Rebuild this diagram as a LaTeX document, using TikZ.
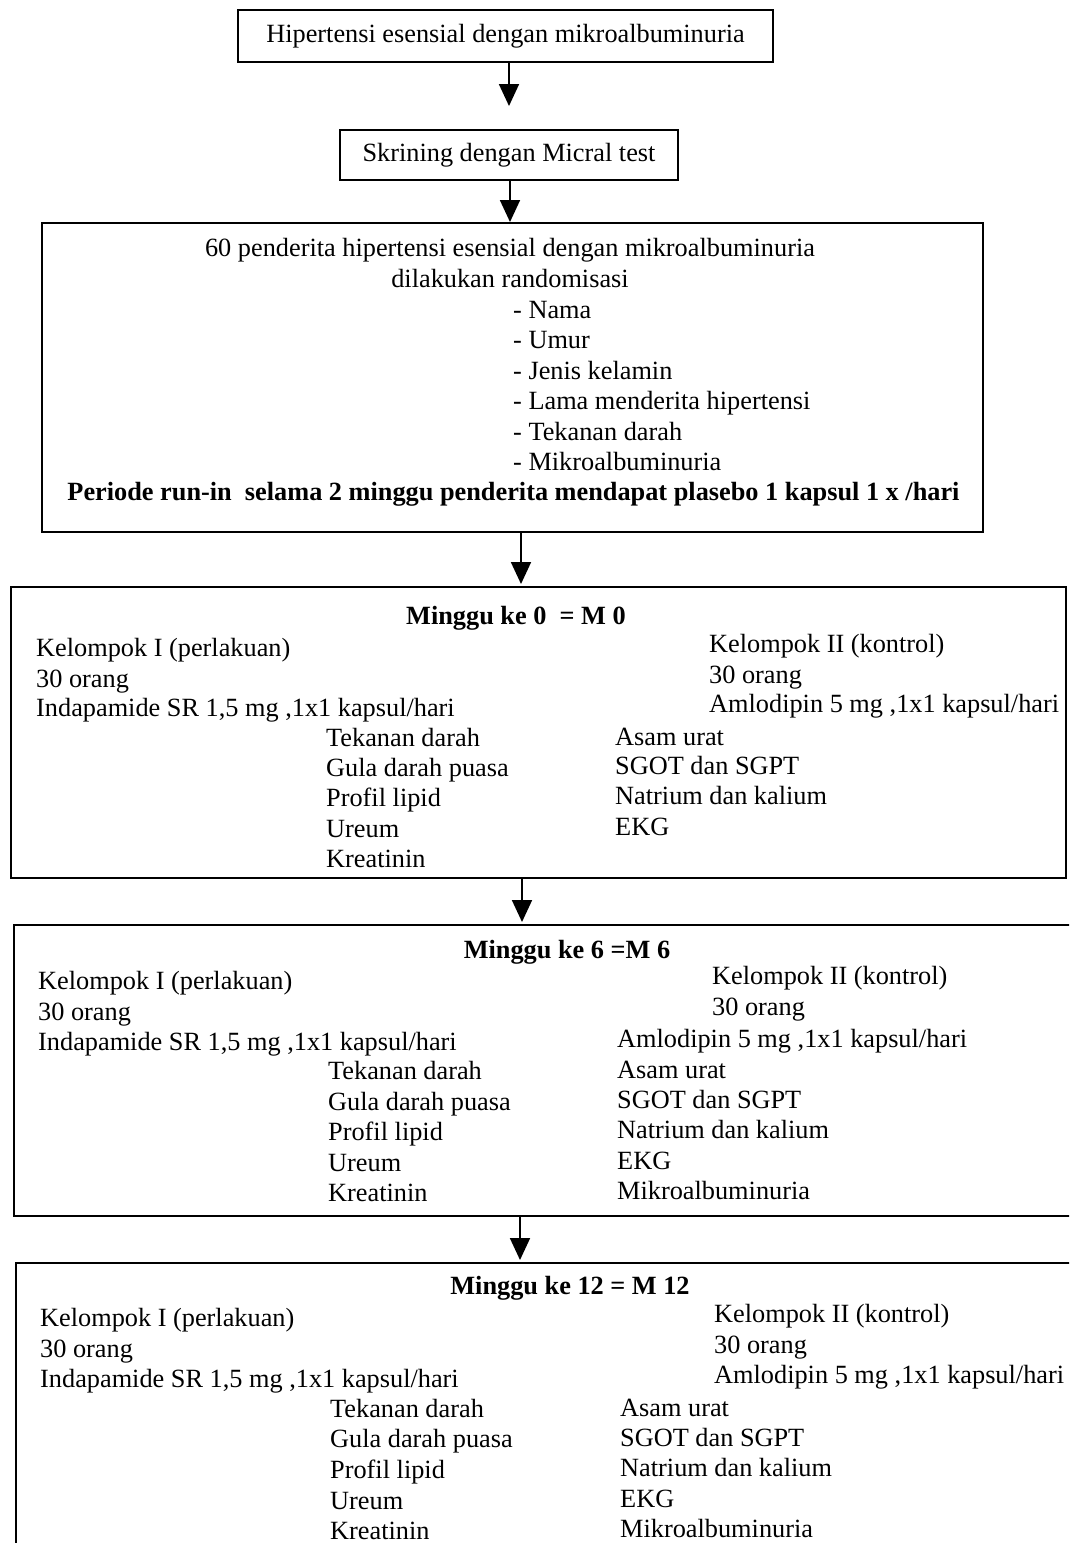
\documentclass[tikz,border=0pt]{standalone}
\usepackage{fontspec}
\setmainfont{Liberation Serif}
\usetikzlibrary{arrows.meta}

\begin{document}
\begin{tikzpicture}[x=1pt,y=-1pt,
  box/.style={draw, line width=2pt, inner sep=0pt},
  txt/.style={inner sep=0pt, font=\fontsize{26.3}{31}\selectfont},
  ln/.style={txt, anchor=base west},
  lnc/.style={txt, anchor=base},
  hd/.style={lnc, font=\fontsize{26.3}{31}\selectfont\bfseries},
  arr/.style={line width=1.8pt, -{Triangle[width=20pt,length=22pt]}}]

\useasboundingbox (0,0) rectangle (1069,1543);
\clip (0,0) rectangle (1069,1543);

% ---------- top boxes ----------
\node[box, txt, minimum width=535pt, minimum height=52pt] (b1) at (505.5,36)
  {Hipertensi esensial dengan mikroalbuminuria};
\node[box, txt, minimum width=338pt, minimum height=50pt] (b2) at (509,155)
  {Skrining dengan Micral test};

% ---------- randomisation box ----------
\node[box, minimum width=941pt, minimum height=309pt] (b3) at (512.5,377.5) {};
\node[lnc] (b3-t1) at (510,256) {60 penderita hipertensi esensial dengan mikroalbuminuria};
\node[lnc] (b3-t2) at (510,287) {dilakukan randomisasi};
\foreach \y/\t [count=\i] in {318/Nama, 348/Umur, 379/Jenis kelamin,
    409/Lama menderita hipertensi, 440/Tekanan darah, 470/Mikroalbuminuria}
  \node[ln] (b3-v\i) at (513,\y) {- \t};
\node[hd] (b3-run) at (513.5,500)
  {Periode run-in\ \ selama 2 minggu penderita mendapat plasebo 1 kapsul 1 x /hari};

% ---------- week 0 ----------
\node[box, minimum width=1055pt, minimum height=291pt] (b4) at (538.5,732.5) {};
\node[hd] (b4-h) at (516,624) {Minggu ke 0\ \ = M 0};
\foreach \y/\t [count=\i] in {656/{Kelompok I (perlakuan)}, 687/{30 orang},
    716/{Indapamide SR 1,5 mg ,1x1 kapsul/hari}}
  \node[ln] (b4-l\i) at (36,\y) {\t};
\foreach \y/\t [count=\i] in {652/{Kelompok II (kontrol)}, 683/{30 orang},
    712/{Amlodipin 5 mg ,1x1 kapsul/hari}}
  \node[ln] (b4-r\i) at (709,\y) {\t};
\foreach \y/\t [count=\i] in {746/Tekanan darah, 776/Gula darah puasa,
    806/Profil lipid, 837/Ureum, 867/Kreatinin}
  \node[ln] (b4-m\i) at (326,\y) {\t};
\foreach \y/\t [count=\i] in {745/Asam urat, 774/SGOT dan SGPT,
    804/Natrium dan kalium, 835/EKG}
  \node[ln] (b4-n\i) at (615,\y) {\t};

% ---------- week 6 ----------
\node[box, minimum width=1061pt, minimum height=291pt] (b5) at (544.5,1070.5) {};
\node[hd] (b5-h) at (567,958) {Minggu ke 6 =M 6};
\foreach \y/\t [count=\i] in {989/{Kelompok I (perlakuan)}, 1020/{30 orang},
    1050/{Indapamide SR 1,5 mg ,1x1 kapsul/hari}}
  \node[ln] (b5-l\i) at (38,\y) {\t};
\foreach \y/\t [count=\i] in {984/{Kelompok II (kontrol)}, 1015/{30 orang}}
  \node[ln] (b5-r\i) at (712,\y) {\t};
\foreach \y/\t [count=\i] in {1079/Tekanan darah, 1110/Gula darah puasa,
    1140/Profil lipid, 1171/Ureum, 1201/Kreatinin}
  \node[ln] (b5-m\i) at (328,\y) {\t};
\foreach \y/\t [count=\i] in {1047/{Amlodipin 5 mg ,1x1 kapsul/hari},
    1078/Asam urat, 1108/SGOT dan SGPT, 1138/Natrium dan kalium,
    1169/EKG, 1199/Mikroalbuminuria}
  \node[ln] (b5-n\i) at (617,\y) {\t};

% ---------- week 12 ----------
\node[box, minimum width=1059pt, minimum height=297pt] (b6) at (545.5,1411.5) {};
\node[hd] (b6-h) at (570,1294) {Minggu ke 12 = M 12};
\foreach \y/\t [count=\i] in {1326/{Kelompok I (perlakuan)}, 1357/{30 orang},
    1387/{Indapamide SR 1,5 mg ,1x1 kapsul/hari}}
  \node[ln] (b6-l\i) at (40,\y) {\t};
\foreach \y/\t [count=\i] in {1322/{Kelompok II (kontrol)}, 1353/{30 orang},
    1383/{Amlodipin 5 mg ,1x1 kapsul/hari}}
  \node[ln] (b6-r\i) at (714,\y) {\t};
\foreach \y/\t [count=\i] in {1417/Tekanan darah, 1447/Gula darah puasa,
    1478/Profil lipid, 1509/Ureum, 1539/Kreatinin}
  \node[ln] (b6-m\i) at (330,\y) {\t};
\foreach \y/\t [count=\i] in {1416/Asam urat, 1446/SGOT dan SGPT,
    1476/Natrium dan kalium, 1507/EKG, 1537/Mikroalbuminuria}
  \node[ln] (b6-n\i) at (620,\y) {\t};

% ---------- connectors ----------
\coordinate (a1) at (509,106);
\coordinate (a2) at (510,0);
\coordinate (a3) at (521,0);
\coordinate (a4) at (522,0);
\coordinate (a5) at (520,0);
\draw[arr] (b1.south -| a1) -- (a1);
\draw[arr] (b2.south -| a2) -- (b3.north -| a2);
\draw[arr] (b3.south -| a3) -- ([yshift=2pt]b4.north -| a3);
\draw[arr] (b4.south -| a4) -- ([yshift=2pt]b5.north -| a4);
\draw[arr] (b5.south -| a5) -- ([yshift=2pt]b6.north -| a5);
\end{tikzpicture}
\end{document}
